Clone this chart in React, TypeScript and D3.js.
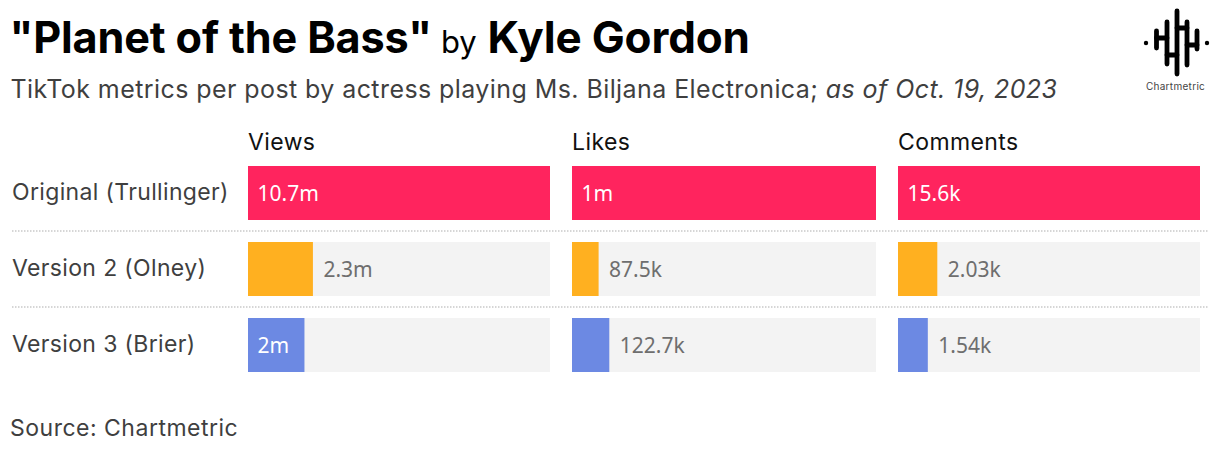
import React from 'react';
import * as d3 from 'd3';

const versions = ['Original (Trullinger)', 'Version 2 (Olney)', 'Version 3 (Brier)'];
const metrics = ['Views', 'Likes', 'Comments'];
const colors = ['#ff245e', '#ffb020', '#6c89e3'];

const views = [10700000, 2300000, 2000000];
const likes = [1000000, 87500, 122700];
const comments = [15600, 2030, 1540];
const viewLabels = ['10.7m', '2.3m', '2m'];
const likeLabels = ['1m', '87.5k', '122.7k'];
const commentLabels = ['15.6k', '2.03k', '1.54k'];

const series = [views, likes, comments];
const seriesLabels = [viewLabels, likeLabels, commentLabels];

const width = 1220;
const height = 452;
const ink = '#000';
const gray = '#3f3f3f';
const font = 'Inter, sans-serif';
const valueFont = '"Noto Sans", sans-serif';

const colLeft = [248, 572, 898];
const colRight = [550, 876, 1200];
const rowTop = [166, 242, 318];
const rowHeight = 54;

// logo strokes, in px on the page
const logoLines = [
  [1156.5, 31, 48],
  [1167, 22, 64],
  [1177, 11, 74],
  [1187, 22, 65],
  [1197, 31, 49],
];
const logoLinks = [
  [1156.5, 1167, 38],
  [1167, 1177, 55],
  [1177, 1187, 28],
  [1187, 1197, 45],
];

const App: React.FC = () => {
  return (
    <svg
      width={width}
      height={height}
      style={{ position: 'absolute', left: 0, top: 0, background: '#fff', fontFamily: font }}
    >
      <text x={9.5} y={53} fontSize={43.2} fontWeight={700} fill={ink} letterSpacing={-0.15}>
        "Planet of the Bass"
        <tspan fontSize={31} fontWeight={400} dx={9}>by</tspan>
        <tspan fontSize={44} dx={11}>Kyle Gordon</tspan>
      </text>
      <text x={10.5} y={98} fontSize={25} fill={gray} letterSpacing={0.42}>
        TikTok metrics per post by actress playing Ms. Biljana Electronica;{' '}
        <tspan fontStyle="italic">as of Oct. 19, 2023</tspan>
      </text>

      {metrics.map((m, c) => (
        <text key={m} x={colLeft[c]} y={150} fontSize={23} fill="#111" letterSpacing={0.4}>{m}</text>
      ))}

      {versions.map((v, r) => (
        <text key={v} x={12} y={rowTop[r] + 34} fontSize={23} fill={gray} letterSpacing={0.35}>{v}</text>
      ))}

      {[231, 307].map(y => (
        <line key={y} x1={12} x2={1208} y1={y} y2={y} stroke="#c9c9c9" strokeWidth={1.5} strokeDasharray="1.5 1.5" />
      ))}

      {metrics.map((m, c) => {
        const x = d3.scaleLinear()
          .domain([0, d3.max(series[c]) as number])
          .range([colLeft[c], colRight[c]]);
        return (
          <g key={m}>
            {series[c].map((d, r) => {
              const full = r === 0;
              const inside = full || (c === 0 && r === 2);
              return (
                <g key={r}>
                  <rect x={colLeft[c]} y={rowTop[r]} width={colRight[c] - colLeft[c]} height={rowHeight} fill="#f3f3f3" />
                  <rect x={colLeft[c]} y={rowTop[r]} width={x(d) - colLeft[c]} height={rowHeight} fill={colors[r]} />
                  <text
                    x={inside ? colLeft[c] + 9.5 : x(d) + 10.5}
                    y={rowTop[r] + 35}
                    fontSize={21}
                    fontFamily={valueFont}
                    fill={inside ? '#fff' : '#6e6e6e'}
                  >
                    {seriesLabels[c][r]}
                  </text>
                </g>
              );
            })}
          </g>
        );
      })}

      <text x={10} y={436} fontSize={23} fill={gray} letterSpacing={0.5}>Source: Chartmetric</text>

      <g stroke="#000" strokeWidth={4.8} strokeLinecap="round" fill="none">
        {logoLines.map(([x, y1, y2]) => <line key={x} x1={x} x2={x} y1={y1} y2={y2} />)}
        {logoLinks.map(([x1, x2, y]) => <line key={x1} x1={x1} x2={x2} y1={y} y2={y} />)}
      </g>
      <circle cx={1146} cy={43} r={2.2} fill="#000" />
      <circle cx={1207} cy={43} r={2.2} fill="#000" />
      <text x={1175.5} y={90} fontSize={10} textAnchor="middle" fill="#444" letterSpacing={0.3}>Chartmetric</text>
    </svg>
  );
};

export default App;
